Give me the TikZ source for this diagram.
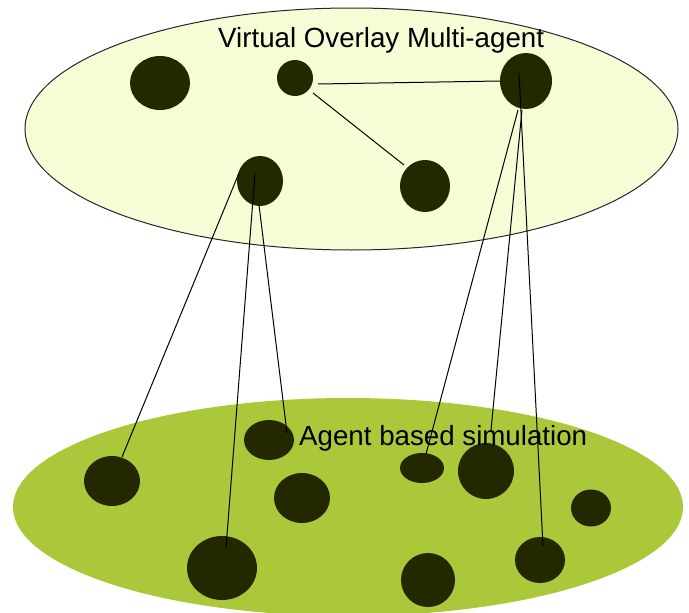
\documentclass[tikz,border=0pt]{standalone}
\usepackage{fontspec}
\setmainfont{Liberation Sans}
\usetikzlibrary{shapes.geometric,calc}
\definecolor{topfill}{RGB}{245,252,214}
\definecolor{botfill}{RGB}{170,200,58}
\definecolor{dotcol}{RGB}{36,40,0}
\tikzset{
  dotnode/.style 2 args={ellipse, fill=dotcol, inner sep=0pt, minimum width=#1pt, minimum height=#2pt},
  link/.style={black, line width=1pt},
  lbl/.style={inner sep=0pt, anchor=base west, font=\fontsize{27.7}{33}\selectfont}
}
\begin{document}
\begin{tikzpicture}[x=1pt,y=-1pt]
\useasboundingbox (0,0) rectangle (689,613);
\clip (0,0) rectangle (689,613);
% layers
\node[ellipse, draw=black!85, line width=1pt, fill=topfill, inner sep=0pt, minimum width=653pt, minimum height=242pt] (top) at (351.5,129) {};
\node[ellipse, fill=botfill, inner sep=0pt, minimum width=670pt, minimum height=218pt] (bot) at (348,507) {};
% top dots
\node[dotnode={60}{54}] (A) at (160,83) {};
\node[dotnode={36}{36}] (B) at (295,78) {};
\node[dotnode={52}{56}] (C) at (526,81) {};
\node[dotnode={46}{50}] (D) at (260,181) {};
\node[dotnode={50}{52}] (E) at (425,186) {};
% bottom dots
\node[dotnode={56}{50}] (L) at (112,481) {};
\node[dotnode={50}{40}] (T) at (269,440) {};
\node[dotnode={56}{50}] (M) at (302,498) {};
\node[dotnode={70}{64}] (G) at (222,568) {};
\node[dotnode={44}{30}] (S) at (422,468) {};
\node[dotnode={56}{56}] (F) at (486,471) {};
\node[dotnode={40}{37}] (R) at (591,508) {};
\node[dotnode={50}{46}] (H) at (540,560) {};
\node[dotnode={54}{54}] (K) at (428,580) {};
% texts
\node[lbl] (t1) at (218,47) {Virtual Overlay Multi-agent};
\node[lbl] (t2) at (299,445) {Agent based simulation};
% links
\draw[link] ($(B.center)+(23,6)$) -- (C.west);
\draw[link] ($(B.center)+(18,15)$) -- ($(E.center)+(-21,-21)$);
\draw[link] ($(D.center)+(-21,-8)$) -- ($(L.center)+(10,-24)$);
\draw[link] ($(D.center)+(-5,-8)$) -- ($(G.center)+(4,-20)$);
\draw[link] ($(D.center)+(-1,24)$) -- ($(T.center)+(18,-7)$);
\draw[link] ($(C.center)+(-8,29)$) -- ($(S.center)+(4,-14)$);
\draw[link] ($(C.center)+(-4,29)$) -- ($(F.center)+(5,-41)$);
\draw[link] ($(C.center)+(-7,-8)$) -- ($(H.center)+(3,-14)$);
\end{tikzpicture}
\end{document}
